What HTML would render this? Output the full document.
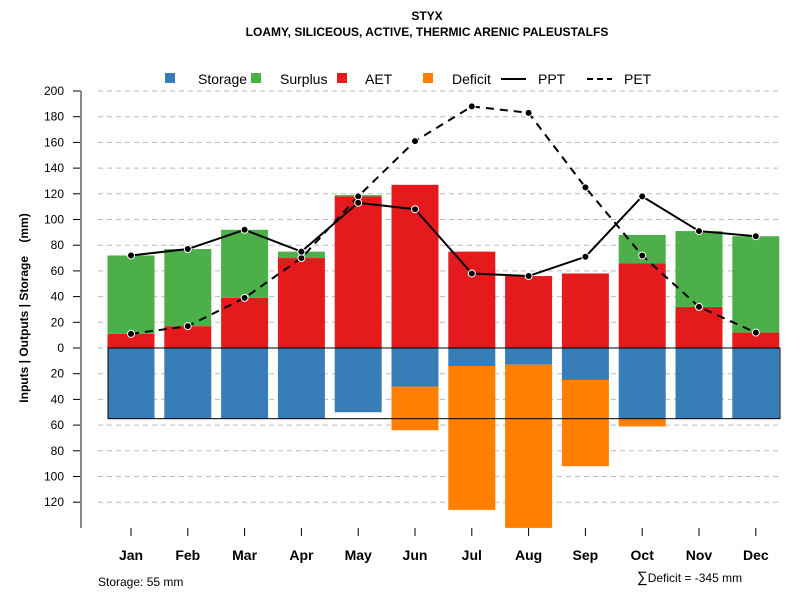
<!DOCTYPE html>
<html><head><meta charset="utf-8"><style>
body{margin:0;background:#fff;}
svg{font-family:"Liberation Sans",sans-serif;}
</style></head><body>
<svg id="c" width="800" height="600" xmlns="http://www.w3.org/2000/svg">
<text x="427" y="20" text-anchor="middle" font-size="12" font-weight="bold">STYX</text>
<text x="427" y="36" text-anchor="middle" font-size="12" font-weight="bold">LOAMY, SILICEOUS, ACTIVE, THERMIC ARENIC PALEUSTALFS</text>
<g font-size="14">
<rect x="165" y="73" width="10" height="10" fill="#377EB8"/>
<text x="198" y="84">Storage</text>
<rect x="251" y="73" width="10" height="10" fill="#4DAF4A"/>
<text x="280" y="84">Surplus</text>
<rect x="337" y="73" width="10" height="10" fill="#E41A1C"/>
<text x="365" y="84">AET</text>
<rect x="423" y="73" width="10" height="10" fill="#FF7F00"/>
<text x="452" y="84">Deficit</text>
<line x1="501" y1="79" x2="526" y2="79" stroke="#000" stroke-width="2"/>
<text x="538" y="84">PPT</text>
<line x1="587" y1="79" x2="612" y2="79" stroke="#000" stroke-width="2" stroke-dasharray="6,4"/>
<text x="624" y="84">PET</text>
</g>
<g id="grid"></g><g id="bars"></g><g id="lines"></g><g id="axes"></g>
<text transform="translate(28,308) rotate(-90)" text-anchor="middle" font-size="12" font-weight="bold" style="white-space:pre">Inputs | Outputs | Storage    (mm)</text>
<text x="98" y="586" font-size="12">Storage: 55 mm</text>
<text x="637" y="582" font-size="12"><tspan font-size="15">∑</tspan>Deficit = -345 mm</text>
</svg>
<script>
const months=["Jan","Feb","Mar","Apr","May","Jun","Jul","Aug","Sep","Oct","Nov","Dec"];
const aet=[11,17,39,70,118,127,75,56,58,66,32,12];
const surplus=[61,60,53,5,1,0,0,0,0,22,59,75];
const storage=[55,55,55,55,50,30,14,13,25,55,55,55];
const deficit=[0,0,0,0,0,34,112,127,67,6,0,0];
const ppt=[72,77,92,75,113,108,58,56,71,118,91,87];
const pet=[11,17,39,70,118,161,188,183,125,72,32,12];
const yTicks=[200,180,160,140,120,100,80,60,40,20,0,-20,-40,-60,-80,-100,-120];
const NS="http://www.w3.org/2000/svg";
const y=v=>348-v*1.285;
const x=i=>131+i*56.8;
const bw=47;
function mk(parent,tag,attrs){const e=document.createElementNS(NS,tag);for(const k in attrs)e.setAttribute(k,attrs[k]);document.getElementById(parent).appendChild(e);return e;}
yTicks.forEach(t=>{
 const g=mk("grid","line",{x1:98,x2:780,y1:y(t),y2:y(t),stroke:"#bbb","stroke-dasharray":"5,4"});
 
 
 const tk=mk("axes","line",{x1:73,x2:81,y1:y(t),y2:y(t),stroke:"#000"});
 
 
 const tx=mk("axes","text",{x:64,y:y(t)+4,"text-anchor":"end","font-size":12});
 tx.textContent=Math.abs(t);
 
 
});
const ax=mk("axes","line",{x1:81,x2:81,y1:91,y2:528,stroke:"#888","stroke-width":2});


months.forEach((m,i)=>{
 const cx=x(i),l=cx-bw/2;
 const s=mk("bars","rect",{x:l,y:y(0),width:bw,height:y(-storage[i])-y(0),fill:"#377EB8"});
 
 
 if(deficit[i]>0){const d=mk("bars","rect",{x:l,y:y(-storage[i]),width:bw,height:y(-storage[i]-deficit[i])-y(-storage[i]),fill:"#FF7F00"});
 
 }
 const a=mk("bars","rect",{x:l,y:y(aet[i]),width:bw,height:y(0)-y(aet[i]),fill:"#E41A1C"});
 
 
 if(surplus[i]>0){const su=mk("bars","rect",{x:l,y:y(aet[i]+surplus[i]),width:bw,height:y(aet[i])-y(aet[i]+surplus[i]),fill:"#4DAF4A"});
 
 }
 const t=mk("axes","line",{x1:cx,x2:cx,y1:528,y2:536,stroke:"#000"});
 
 
 const lb=mk("axes","text",{x:cx,y:560,"text-anchor":"middle","font-size":14,"font-weight":"bold"});
 lb.textContent=m;
 
 
});
const sr=mk("bars","rect",{x:108,y:y(0),width:672,height:y(-55)-y(0),fill:"none",stroke:"#000","stroke-width":1});


function series(vals,name,dash){
 const p=mk("lines","polyline",{points:vals.map((v,i)=>x(i)+","+y(v)).join(" "),fill:"none",stroke:"#000","stroke-width":2,"stroke-dasharray":dash});
 
 
 vals.forEach((v,i)=>{const c=mk("lines","circle",{cx:x(i),cy:y(v),r:3.5,fill:"#000",stroke:"#fff","stroke-width":1});
 
 });
}
series(pet,"pet","8,6");
series(ppt,"ppt","none");
</script>
</body></html>
